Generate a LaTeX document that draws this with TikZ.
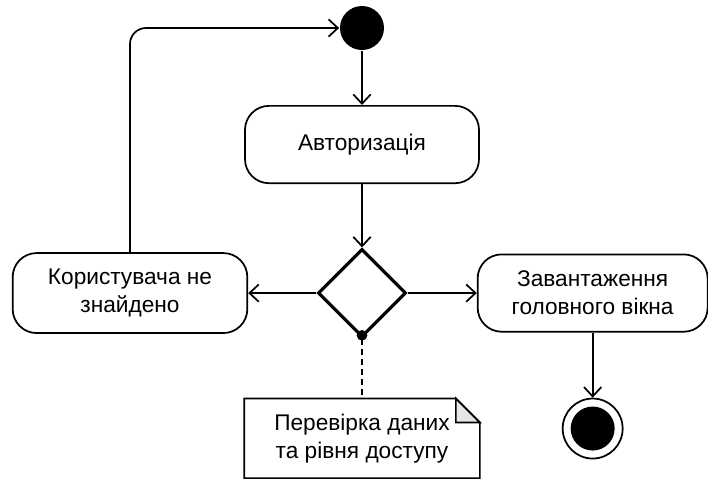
\documentclass[tikz,border=0pt]{standalone}
\usepackage{fontspec}
\setmainfont{Liberation Sans}
\usetikzlibrary{positioning,arrows.meta,shapes.geometric}
\definecolor{foldgray}{HTML}{E6E6E6}

\begin{document}
\begin{tikzpicture}[font=\fontsize{17}{21}\selectfont, line width=1.3pt]
    \tikzstyle{action}=[draw, rounded corners=18pt, align=center, minimum height=58pt, node distance=2em, on grid]
    \tikzstyle{flow}=[-{Straight Barb[length=7pt,width=13pt]}]
    \useasboundingbox (0,0) rectangle (531pt,-359.25pt);

    \node[circle, fill=black, minimum size=33pt, inner sep=0] (start) at (271.5pt,-21pt) {};
    \node[action, minimum width=175.5pt, below=87.4pt of start] (auth) {Авторизація};
    \node[on grid, diamond, draw, line width=2.4pt, aspect=1, minimum size=66pt, inner sep=0, below=111.4pt of auth] (check) {};
    \node[action, minimum width=176pt, minimum height=60pt, left=174pt of check] (notfound) {Користувача не\\знайдено};
    \node[action, minimum width=172.5pt, right=173pt of check] (mainwin) {Завантаження\\головного вікна};
    \node[on grid, circle, draw, minimum size=45pt, inner sep=0, below=101.6pt of mainwin] (stop) {};
    \node[circle, fill=black, minimum size=33pt, inner sep=0] at (stop) {};
    \node[on grid, minimum width=175.5pt, minimum height=58.5pt, align=center, below=109pt of check] (note) {Перевірка даних\\та рівня доступу};

    % note with folded corner
    \draw (note.north west) -- ([xshift=-18pt]note.north east) -- ([yshift=-18pt]note.north east)
        -- (note.south east) -- (note.south west) -- cycle;
    \draw[fill=foldgray] ([xshift=-18pt]note.north east) -- ([xshift=-18pt,yshift=-18pt]note.north east)
        -- ([yshift=-18pt]note.north east) -- cycle;
    \fill (check.south) ++(0,2.5pt) circle (4pt);
    \draw[dash pattern=on 4.5pt off 3pt] (check.south) -- (note.north);

    \draw[flow] (start) -- (auth);
    \draw[flow] (auth) -- (check.north);
    \draw[flow] (check.west) -- (notfound);
    \draw[flow] (check.east) -- (mainwin);
    \draw[flow] (mainwin) -- (stop);
    \draw[flow, rounded corners=12pt] (notfound.north) |- (start.west);
\end{tikzpicture}
\end{document}
